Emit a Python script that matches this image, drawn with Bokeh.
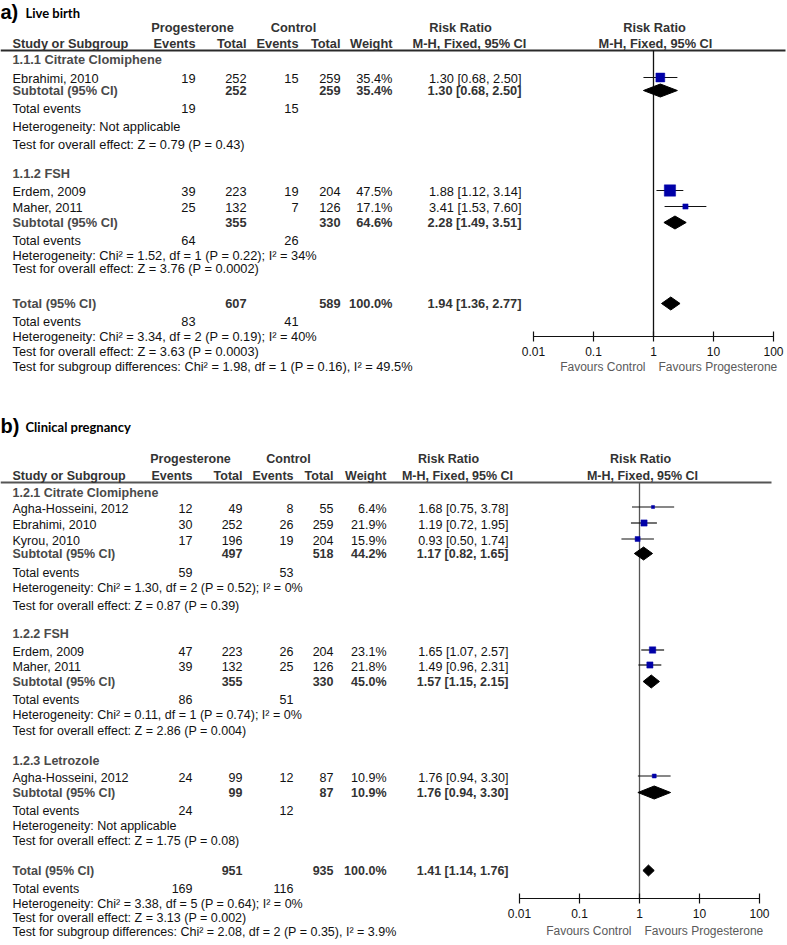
from collections import defaultdict
from bokeh.plotting import figure
from bokeh.models import Range1d, LogScale, ColumnDataSource
from bokeh.core.properties import value
from bokeh.embed import file_html
from bokeh.resources import INLINE

# ---------------- data: panel a (Live birth) ----------------
a_letter = "a)"
a_title = "Live birth"
a_groups = ["1.1.1 Citrate Clomiphene", "1.1.2 FSH"]
a_study = ["Ebrahimi, 2010", "Erdem, 2009", "Maher, 2011"]
a_prog_events = [19, 39, 25]
a_prog_total = [252, 223, 132]
a_ctrl_events = [15, 19, 7]
a_ctrl_total = [259, 204, 126]
a_weight = [35.4, 47.5, 17.1]
a_rr = [1.30, 1.88, 3.41]
a_lo = [0.68, 1.12, 1.53]
a_hi = [2.50, 3.14, 7.60]
a_sub_prog_events = [19, 64]
a_sub_ctrl_events = [15, 26]
a_sub_prog_total = [252, 355]
a_sub_ctrl_total = [259, 330]
a_sub_weight = [35.4, 64.6]
a_sub_rr = [1.30, 2.28]
a_sub_lo = [0.68, 1.49]
a_sub_hi = [2.50, 3.51]
a_sub_het = ["Heterogeneity: Not applicable",
             "Heterogeneity: Chi² = 1.52, df = 1 (P = 0.22); I² = 34%"]
a_sub_z = ["Test for overall effect: Z = 0.79 (P = 0.43)",
           "Test for overall effect: Z = 3.76 (P = 0.0002)"]
a_tot_prog_total = 607
a_tot_ctrl_total = 589
a_tot_prog_events = 83
a_tot_ctrl_events = 41
a_tot_weight = 100.0
a_tot_rr = 1.94
a_tot_lo = 1.36
a_tot_hi = 2.77
a_tot_het = "Heterogeneity: Chi² = 3.34, df = 2 (P = 0.19); I² = 40%"
a_tot_z = "Test for overall effect: Z = 3.63 (P = 0.0003)"
a_diff = "Test for subgroup differences: Chi² = 1.98, df = 1 (P = 0.16), I² = 49.5%"

# ---------------- data: panel b (Clinical pregnancy) ----------------
b_letter = "b)"
b_title = "Clinical pregnancy"
b_groups = ["1.2.1 Citrate Clomiphene", "1.2.2 FSH", "1.2.3 Letrozole"]
b_study = ["Agha-Hosseini, 2012", "Ebrahimi, 2010", "Kyrou, 2010",
           "Erdem, 2009", "Maher, 2011", "Agha-Hosseini, 2012"]
b_prog_events = [12, 30, 17, 47, 39, 24]
b_prog_total = [49, 252, 196, 223, 132, 99]
b_ctrl_events = [8, 26, 19, 26, 25, 12]
b_ctrl_total = [55, 259, 204, 204, 126, 87]
b_weight = [6.4, 21.9, 15.9, 23.1, 21.8, 10.9]
b_rr = [1.68, 1.19, 0.93, 1.65, 1.49, 1.76]
b_lo = [0.75, 0.72, 0.50, 1.07, 0.96, 0.94]
b_hi = [3.78, 1.95, 1.74, 2.57, 2.31, 3.30]
b_sub_prog_events = [59, 86, 24]
b_sub_ctrl_events = [53, 51, 12]
b_sub_prog_total = [497, 355, 99]
b_sub_ctrl_total = [518, 330, 87]
b_sub_weight = [44.2, 45.0, 10.9]
b_sub_rr = [1.17, 1.57, 1.76]
b_sub_lo = [0.82, 1.15, 0.94]
b_sub_hi = [1.65, 2.15, 3.30]
b_sub_het = ["Heterogeneity: Chi² = 1.30, df = 2 (P = 0.52); I² = 0%",
             "Heterogeneity: Chi² = 0.11, df = 1 (P = 0.74); I² = 0%",
             "Heterogeneity: Not applicable"]
b_sub_z = ["Test for overall effect: Z = 0.87 (P = 0.39)",
           "Test for overall effect: Z = 2.86 (P = 0.004)",
           "Test for overall effect: Z = 1.75 (P = 0.08)"]
b_tot_prog_total = 951
b_tot_ctrl_total = 935
b_tot_prog_events = 169
b_tot_ctrl_events = 116
b_tot_weight = 100.0
b_tot_rr = 1.41
b_tot_lo = 1.14
b_tot_hi = 1.76
b_tot_het = "Heterogeneity: Chi² = 3.38, df = 5 (P = 0.64); I² = 0%"
b_tot_z = "Test for overall effect: Z = 3.13 (P = 0.002)"
b_diff = "Test for subgroup differences: Chi² = 2.08, df = 2 (P = 0.35), I² = 3.9%"

tick_values = [0.01, 0.1, 1, 10, 100]
tick_labels = ["0.01", "0.1", "1", "10", "100"]
favours_left = "Favours Control"
favours_right = "Favours Progesterone"

# ---------------- styles / layout ----------------
FONT = "Liberation Sans"
TXT = "#111111"
HDR = "#333333"
GRP = "#4a4a4a"
SUBC = "#333333"
FAV = "#5a5a5a"
SQ = "#0000a8"

W, H = 787, 945
p = figure(width=W, height=H, x_range=Range1d(0, W), y_range=Range1d(H, 0),
           x_axis_location=None, y_axis_location=None, output_backend="svg",
           toolbar_location=None, min_border=0, outline_line_color=None)
p.grid.visible = False
p.background_fill_color = "white"
p.border_fill_color = "white"

DEC = 60.0
p.extra_x_ranges = {
    "fa": Range1d(10 ** ((0 - 653) / DEC), 10 ** ((W - 653) / DEC)),
    "fb": Range1d(10 ** ((0 - 639) / DEC), 10 ** ((W - 639) / DEC)),
}
p.extra_x_scales = {"fa": LogScale(), "fb": LogScale()}

texts = defaultdict(lambda: {"x": [], "y": [], "t": []})


def add(x, y, t, size, color=TXT, bold=False, align="left", font=FONT, rng="default", xoff=0):
    d = texts[(size, color, bold, align, font, rng, xoff)]
    d["x"].append(x)
    d["y"].append(y)
    d["t"].append(t)


def ci(r, l, h):
    return f"{r:.2f} [{l:.2f}, {h:.2f}]"


def draw_panel(D, L):
    fs = L["fs"]
    c = L["cols"]
    R = L["rows"]
    rng = L["rng"]
    add(0, L["title_y"], D["letter"], L["letter_size"], "#000000", True)
    add(L["title_x"], L["title_y"] + 1, D["title"], L["title_size"], "#000000", True, font="Lato")
    y1, y2 = L["hdr_y"]
    add(L["prog_x"], y1, "Progesterone", fs, HDR, True, "center")
    add(L["ctrl_x"], y1, "Control", fs, HDR, True, "center")
    add(L["rr1_x"], y1, "Risk Ratio", fs, HDR, True, "center")
    add(L["f1_x"], y1, "Risk Ratio", fs, HDR, True, "center")
    add(c["name"], y2, "Study or Subgroup", fs, HDR, True)
    add(c["pe"], y2, "Events", fs, HDR, True, "right")
    add(c["pt"], y2, "Total", fs, HDR, True, "right")
    add(c["ce"], y2, "Events", fs, HDR, True, "right")
    add(c["ct"], y2, "Total", fs, HDR, True, "right")
    add(c["w"], y2, "Weight", fs, HDR, True, "right")
    add(L["rr2_x"], y2, "M-H, Fixed, 95% CI", fs, HDR, True, "center")
    add(L["f2_x"], y2, "M-H, Fixed, 95% CI", fs, HDR, True, "center")
    p.segment(x0=[L["rule_x"][0]], x1=[L["rule_x"][1]], y0=[L["rule_y"]], y1=[L["rule_y"]],
              line_color=L["rule_color"], line_width=2)

    for gi, g in enumerate(D["groups"]):
        add(c["name"], R["group"][gi], g, fs, GRP, True)
        y = R["sub"][gi]
        add(c["name"], y, "Subtotal (95% CI)", fs, GRP, True)
        add(c["pt"], y, str(D["spt"][gi]), fs, SUBC, True, "right")
        add(c["ct"], y, str(D["sct"][gi]), fs, SUBC, True, "right")
        add(c["w"], y, f"{D['sw'][gi]:.1f}%", fs, SUBC, True, "right")
        add(c["rr"], y, ci(D["srr"][gi], D["slo"][gi], D["shi"][gi]), fs, SUBC, True, "right")
        y = R["ev"][gi]
        add(c["name"], y, "Total events", fs, TXT)
        add(c["pe"], y, str(D["spe"][gi]), fs, TXT, False, "right")
        add(c["ce"], y, str(D["sce"][gi]), fs, TXT, False, "right")
        add(c["name"], R["het"][gi], D["shet"][gi], fs, TXT)
        add(c["name"], R["z"][gi], D["sz"][gi], fs, TXT)

    for i, s in enumerate(D["study"]):
        y = R["study"][i]
        add(c["name"], y, s, fs, TXT)
        add(c["pe"], y, str(D["pe"][i]), fs, TXT, False, "right")
        add(c["pt"], y, str(D["pt"][i]), fs, TXT, False, "right")
        add(c["ce"], y, str(D["ce"][i]), fs, TXT, False, "right")
        add(c["ct"], y, str(D["ct"][i]), fs, TXT, False, "right")
        add(c["w"], y, f"{D['w'][i]:.1f}%", fs, TXT, False, "right")
        add(c["rr"], y, ci(D["rr"][i], D["lo"][i], D["hi"][i]), fs, TXT, False, "right")

    y = R["tot"]
    add(c["name"], y, "Total (95% CI)", fs, GRP, True)
    add(c["pt"], y, str(D["tpt"]), fs, SUBC, True, "right")
    add(c["ct"], y, str(D["tct"]), fs, SUBC, True, "right")
    add(c["w"], y, f"{D['tw']:.1f}%", fs, SUBC, True, "right")
    add(c["rr"], y, ci(D["trr"], D["tlo"], D["thi"]), fs, SUBC, True, "right")
    add(c["name"], R["tot_ev"], "Total events", fs, TXT)
    add(c["pe"], R["tot_ev"], str(D["tpe"]), fs, TXT, False, "right")
    add(c["ce"], R["tot_ev"], str(D["tce"]), fs, TXT, False, "right")
    add(c["name"], R["tot_het"], D["thet"], fs, TXT)
    add(c["name"], R["tot_z"], D["tz"], fs, TXT)
    add(c["name"], R["diff"], D["diff"], fs, TXT)

    # ---- forest plot ----
    ax_y = L["axis_y"]
    p.segment(x0=[1], x1=[1], y0=[L["rule_y"]], y1=[ax_y], line_color=L["vline_color"],
              line_width=1.3, x_range_name=rng)
    sy = [R["study"][i] + L["mk_dy"] for i in range(len(D["study"]))]
    p.segment(x0=D["lo"], x1=D["hi"], y0=sy, y1=sy, line_color="#111111", line_width=1.2,
              x_range_name=rng)
    sizes = [0.2 * w + 1.8 for w in D["w"]]
    p.scatter(x=D["rr"], y=sy, size=sizes, marker="square", fill_color=SQ, line_color=SQ,
              line_width=0.5, x_range_name=rng)
    xs, ys = [], []
    hh = L["dia_h"]
    for gi in range(len(D["groups"])):
        yy = R["sub"][gi]
        xs.append([D["slo"][gi], D["srr"][gi], D["shi"][gi], D["srr"][gi]])
        ys.append([yy, yy - hh, yy, yy + hh])
    yy = R["tot"]
    th = L["tot_dia_h"]
    xs.append([D["tlo"], D["trr"], D["thi"], D["trr"]])
    ys.append([yy, yy - th, yy, yy + th])
    p.patches(xs=xs, ys=ys, fill_color="black", line_color="black", x_range_name=rng)

    p.segment(x0=[tick_values[0]], x1=[tick_values[-1]], y0=[ax_y], y1=[ax_y],
              line_color="#111111", line_width=1.2, x_range_name=rng)
    p.segment(x0=tick_values, x1=tick_values, y0=[ax_y - 5] * len(tick_values),
              y1=[ax_y + 5] * len(tick_values), line_color="#111111", line_width=1.2,
              x_range_name=rng)
    for tv, tl in zip(tick_values, tick_labels):
        add(tv, ax_y + 15, tl, L["tick_fs"], TXT, False, "center", rng=rng)
    add(1, L["fav_y"], favours_left, L["tick_fs"], FAV, False, "right", rng=rng, xoff=-8)
    add(1, L["fav_y"], favours_right, L["tick_fs"], FAV, False, "left", rng=rng, xoff=5)


A = dict(letter=a_letter, title=a_title, groups=a_groups, study=a_study,
         pe=a_prog_events, pt=a_prog_total, ce=a_ctrl_events, ct=a_ctrl_total, w=a_weight,
         rr=a_rr, lo=a_lo, hi=a_hi, spe=a_sub_prog_events, sce=a_sub_ctrl_events,
         spt=a_sub_prog_total, sct=a_sub_ctrl_total, sw=a_sub_weight, srr=a_sub_rr,
         slo=a_sub_lo, shi=a_sub_hi, shet=a_sub_het, sz=a_sub_z,
         tpt=a_tot_prog_total, tct=a_tot_ctrl_total, tpe=a_tot_prog_events,
         tce=a_tot_ctrl_events, tw=a_tot_weight, trr=a_tot_rr, tlo=a_tot_lo, thi=a_tot_hi,
         thet=a_tot_het, tz=a_tot_z, diff=a_diff)
B = dict(letter=b_letter, title=b_title, groups=b_groups, study=b_study,
         pe=b_prog_events, pt=b_prog_total, ce=b_ctrl_events, ct=b_ctrl_total, w=b_weight,
         rr=b_rr, lo=b_lo, hi=b_hi, spe=b_sub_prog_events, sce=b_sub_ctrl_events,
         spt=b_sub_prog_total, sct=b_sub_ctrl_total, sw=b_sub_weight, srr=b_sub_rr,
         slo=b_sub_lo, shi=b_sub_hi, shet=b_sub_het, sz=b_sub_z,
         tpt=b_tot_prog_total, tct=b_tot_ctrl_total, tpe=b_tot_prog_events,
         tce=b_tot_ctrl_events, tw=b_tot_weight, trr=b_tot_rr, tlo=b_tot_lo, thi=b_tot_hi,
         thet=b_tot_het, tz=b_tot_z, diff=b_diff)

LA = dict(fs=12.8, rng="fa", letter_size=20, title_size=13, title_x=25, title_y=11,
          hdr_y=(27, 43), prog_x=192, ctrl_x=293, rr1_x=460, rr2_x=469, f1_x=654, f2_x=655,
          cols=dict(name=12, pe=195, pt=246, ce=298, ct=340, w=392, rr=521),
          rule_x=(0, 785), rule_y=50, rule_color="#2a2a2a", vline_color="#111111",
          rows=dict(group=[59, 173], study=[78, 191, 207], sub=[90, 222], ev=[108, 240],
                    het=[126, 255], z=[144, 268], tot=303, tot_ev=321, tot_het=336,
                    tot_z=351, diff=366),
          mk_dy=-1, dia_h=6.5, tot_dia_h=6.5, axis_y=336, tick_fs=12, fav_y=366)
LB = dict(fs=12.5, rng="fb", letter_size=20, title_size=13, title_x=25, title_y=425,
          hdr_y=(458, 475), prog_x=190, ctrl_x=288, rr1_x=448, rr2_x=457, f1_x=640, f2_x=642,
          cols=dict(name=12, pe=192, pt=242, ce=293, ct=333, w=386, rr=508),
          rule_x=(0, 771), rule_y=482, rule_color="#555555", vline_color="#555555",
          rows=dict(group=[492, 633, 760], study=[508, 524, 540, 651, 666, 777],
                    sub=[553, 681, 792], ev=[572, 699, 810], het=[587, 714, 825],
                    z=[605, 730, 840], tot=870, tot_ev=888, tot_het=903, tot_z=917, diff=931),
          mk_dy=-1.5, dia_h=6.5, tot_dia_h=5.5, axis_y=898, tick_fs=12, fav_y=930)

draw_panel(A, LA)
draw_panel(B, LB)

for (size, color, bold, align, font, rng, xoff), d in texts.items():
    src = ColumnDataSource(d)
    kw = {}
    if rng != "default":
        kw["x_range_name"] = rng
    p.text(x="x", y="y", text="t", source=src, text_font=value(font),
           text_font_size=value(f"{size}px"), text_font_style="bold" if bold else "normal",
           text_color=color, text_align=align, text_baseline="middle", x_offset=xoff, **kw)

open("out.html", "w").write(file_html(p, INLINE))
